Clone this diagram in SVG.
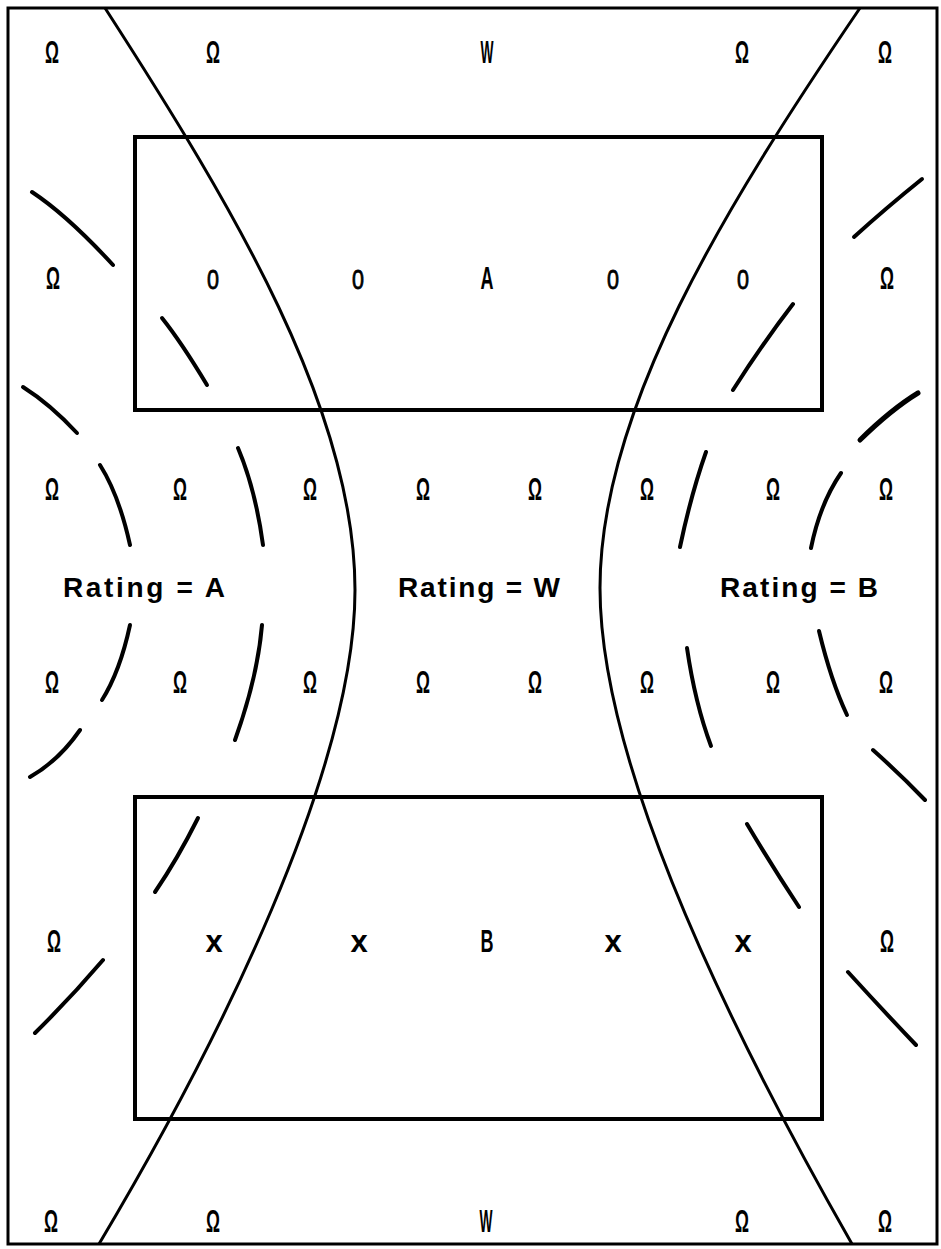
<svg xmlns="http://www.w3.org/2000/svg" width="941" height="1249" viewBox="0 0 941 1249">
<style>
.bg{fill:#fff}
.frame{fill:none;stroke:#000;stroke-width:3}
.box{fill:none;stroke:#000;stroke-width:4}
.curve{fill:none;stroke:#000;stroke-width:3}
.arc{fill:none;stroke:#000;stroke-width:4;stroke-linecap:round}
text{font-family:"Liberation Sans",Arial,sans-serif;text-anchor:middle;fill:#000}
.s{font-size:31px;font-weight:bold}
.d{font-size:27px;stroke:#000;stroke-width:0.8}
.x{font-size:31px;font-weight:bold}
.lab{font-size:28px;font-weight:bold;text-anchor:start}
</style>
<rect class="bg" x="0" y="0" width="941" height="1249"/>
<rect id="frame" class="frame" x="8" y="8" width="929" height="1236"/>
<g id="box-A"><rect class="box" x="135" y="137" width="687" height="273"/></g>
<g id="box-B"><rect class="box" x="135" y="797" width="687" height="322"/></g>
<g id="connectors">
<path class="curve" d="M105,8 C234,208 355,410 355,590 C355,770 218,1044 99,1244"/>
<path class="curve" d="M860,8 C724,208 600,410 600,588 C600,770 738,1044 852,1244"/>
<path class="arc" d="M32,192 Q67.5,215.5 113,265"/>
<path class="arc" d="M162,318 Q181.5,342.5 207,385"/>
<path class="arc" d="M23,387 Q50,404 77,433"/>
<path class="arc" d="M100,465 Q119,495 130,545"/>
<path class="arc" d="M238,448 Q255.5,489.5 263,545"/>
<path class="arc" d="M130,625 Q120,671.5 102,700"/>
<path class="arc" d="M262,625 Q257.5,677.5 235,740"/>
<path class="arc" d="M80,730 Q59,760.5 30,777"/>
<path class="arc" d="M198,818 Q177.5,859 155,892"/>
<path class="arc" d="M103,960 Q71,997.5 35,1033"/>
<path class="arc" d="M922,179 Q886,208 854,237"/>
<path class="arc" d="M793,304 Q763,343 733,390"/>
<path class="arc" d="M918,393 Q891,409.5 860,440" style="stroke-width:5"/>
<path class="arc" d="M706,452 Q691,494.5 680,547"/>
<path class="arc" d="M841,473 Q820,503.5 811,548"/>
<path class="arc" d="M687,648 Q695,703 711,746"/>
<path class="arc" d="M819,631 Q831,681 847,715"/>
<path class="arc" d="M873,750 Q901,775 925,800"/>
<path class="arc" d="M747,824 Q771,864.5 799,907"/>
<path class="arc" d="M848,972 Q884,1011.5 916,1045"/>
</g>
<g id="row1">
<text class="s" x="52" y="63" textLength="14" lengthAdjust="spacingAndGlyphs">Ω</text>
<text class="s" x="213" y="63" textLength="14" lengthAdjust="spacingAndGlyphs">Ω</text>
<text class="s" x="487" y="63" textLength="13" lengthAdjust="spacingAndGlyphs">W</text>
<text class="s" x="742" y="63" textLength="14" lengthAdjust="spacingAndGlyphs">Ω</text>
<text class="s" x="885" y="63" textLength="14" lengthAdjust="spacingAndGlyphs">Ω</text>
</g>
<g id="row2">
<text class="s" x="53" y="289" textLength="14" lengthAdjust="spacingAndGlyphs">Ω</text>
<text class="d" x="213" y="289" textLength="12" lengthAdjust="spacingAndGlyphs">0</text>
<text class="d" x="358" y="289" textLength="12" lengthAdjust="spacingAndGlyphs">0</text>
<text class="s" x="487" y="289" textLength="13" lengthAdjust="spacingAndGlyphs">A</text>
<text class="d" x="613" y="289" textLength="12" lengthAdjust="spacingAndGlyphs">0</text>
<text class="d" x="743" y="289" textLength="12" lengthAdjust="spacingAndGlyphs">0</text>
<text class="s" x="887" y="289" textLength="14" lengthAdjust="spacingAndGlyphs">Ω</text>
</g>
<g id="row3">
<text class="s" x="52" y="500" textLength="14" lengthAdjust="spacingAndGlyphs">Ω</text>
<text class="s" x="180" y="500" textLength="14" lengthAdjust="spacingAndGlyphs">Ω</text>
<text class="s" x="310" y="500" textLength="14" lengthAdjust="spacingAndGlyphs">Ω</text>
<text class="s" x="423" y="500" textLength="14" lengthAdjust="spacingAndGlyphs">Ω</text>
<text class="s" x="535" y="500" textLength="14" lengthAdjust="spacingAndGlyphs">Ω</text>
<text class="s" x="647" y="500" textLength="14" lengthAdjust="spacingAndGlyphs">Ω</text>
<text class="s" x="773" y="500" textLength="14" lengthAdjust="spacingAndGlyphs">Ω</text>
<text class="s" x="886" y="500" textLength="14" lengthAdjust="spacingAndGlyphs">Ω</text>
</g>
<g id="labels">
<text class="lab" x="63" y="597" textLength="162">Rating = A</text>
<text class="lab" x="398" y="597" textLength="162">Rating = W</text>
<text class="lab" x="720" y="597" textLength="158">Rating = B</text>
</g>
<g id="row4">
<text class="s" x="52" y="693" textLength="14" lengthAdjust="spacingAndGlyphs">Ω</text>
<text class="s" x="180" y="693" textLength="14" lengthAdjust="spacingAndGlyphs">Ω</text>
<text class="s" x="310" y="693" textLength="14" lengthAdjust="spacingAndGlyphs">Ω</text>
<text class="s" x="423" y="693" textLength="14" lengthAdjust="spacingAndGlyphs">Ω</text>
<text class="s" x="535" y="693" textLength="14" lengthAdjust="spacingAndGlyphs">Ω</text>
<text class="s" x="647" y="693" textLength="14" lengthAdjust="spacingAndGlyphs">Ω</text>
<text class="s" x="773" y="693" textLength="14" lengthAdjust="spacingAndGlyphs">Ω</text>
<text class="s" x="886" y="693" textLength="14" lengthAdjust="spacingAndGlyphs">Ω</text>
</g>
<g id="row5">
<text class="s" x="54" y="952" textLength="14" lengthAdjust="spacingAndGlyphs">Ω</text>
<text class="x" x="214" y="952">x</text>
<text class="x" x="359" y="952">x</text>
<text class="s" x="487" y="952" textLength="13" lengthAdjust="spacingAndGlyphs">B</text>
<text class="x" x="613" y="952">x</text>
<text class="x" x="743" y="952">x</text>
<text class="s" x="887" y="952" textLength="14" lengthAdjust="spacingAndGlyphs">Ω</text>
</g>
<g id="row6">
<text class="s" x="51" y="1232" textLength="14" lengthAdjust="spacingAndGlyphs">Ω</text>
<text class="s" x="213" y="1232" textLength="14" lengthAdjust="spacingAndGlyphs">Ω</text>
<text class="s" x="486" y="1232" textLength="13" lengthAdjust="spacingAndGlyphs">W</text>
<text class="s" x="742" y="1232" textLength="14" lengthAdjust="spacingAndGlyphs">Ω</text>
<text class="s" x="885" y="1232" textLength="14" lengthAdjust="spacingAndGlyphs">Ω</text>
</g>
</svg>
